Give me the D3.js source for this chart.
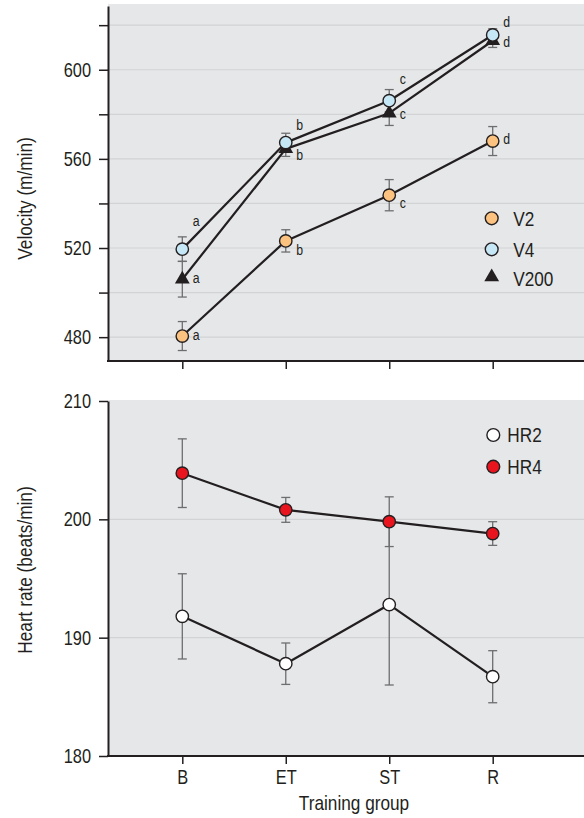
<!DOCTYPE html>
<html>
<head>
<meta charset="utf-8">
<script src="https://cdn.jsdelivr.net/npm/d3@7"></script>
<style>
  html, body { margin: 0; padding: 0; background: #ffffff; }
  svg { display: block; }
</style>
</head>
<body>
<script>
// Training groups on the shared x axis
const groups = ["B", "ET", "ST", "R"];

// Velocity (m/min): means and error half-widths
const v2 = [480.5, 523.2, 543.7, 568.0];
const v2Err = [6.5, 5.0, 7.0, 6.5];
const v4 = [519.5, 567.3, 586.1, 615.6];
const v4Err = [5.5, 4.2, 5.0, 2.8];
const v200 = [506.0, 564.5, 580.5, 613.0];
const v200Err = [8.0, 3.4, 5.5, 3.0];

// Significance letters attached to each velocity point
const v2Letters = ["a", "b", "c", "d"];
const v4Letters = ["a", "b", "c", "d"];
const v200Letters = ["a", "b", "c", "d"];

// Heart rate (beats/min): means and error half-widths
const hr2 = [191.8, 187.8, 192.8, 186.7];
const hr2Err = [3.6, 1.75, 6.8, 2.2];
const hr4 = [203.9, 200.8, 199.8, 198.8];
const hr4Err = [2.9, 1.05, 2.1, 1.0];

// Axis ticks
const velocityTicks = [480, 500, 520, 540, 560, 580, 600, 620];
const velocityLabels = [480, 520, 560, 600];
const hrTicks = [180, 190, 200, 210];

const FONT = "'Liberation Sans', Arial, Helvetica, sans-serif";
const NARROW = 0.82; // horizontal squeeze giving a condensed sans look
const INK = "#231f20";
const BG = "#e6e7e9";
const GRID = "#d2d3d5";
const ERR = "#6d6e70";
const ORANGE = "#fcc27f";
const BLUE = "#c6e7f6";
const RED = "#e8151f";

const W = 584, H = 818;
const axisX = 108;

const svg = d3.select("body").append("svg")
  .attr("width", W).attr("height", H)
  .style("font-family", FONT);

const x = d3.scalePoint().domain(groups).range([182.3, 492.7]);

// Move a text's x/y into its transform and squeeze it horizontally
function condense(sel) {
  sel.each(function () {
    const t = d3.select(this);
    const tx = +t.attr("x") || 0;
    const ty = +t.attr("y") || 0;
    const prev = t.attr("transform") || "";
    t.attr("x", 0).attr("y", 0)
      .attr("transform", `${prev} translate(${tx},${ty}) scale(${NARROW},1)`);
  });
  return sel;
}

// ---------- shared helpers ----------
function panelFrame(g, y, bgTop, ticks, labels, gridTicks) {
  const bottom = y.range()[0];
  g.append("rect")
    .attr("x", axisX).attr("y", bgTop)
    .attr("width", W - axisX).attr("height", bottom - bgTop)
    .attr("fill", BG);

  g.append("g").selectAll("line").data(gridTicks).join("line")
    .attr("x1", axisX).attr("x2", W)
    .attr("y1", d => y(d)).attr("y2", d => y(d))
    .attr("stroke", GRID).attr("stroke-width", 1.2);

  const yAxis = g.append("g")
    .attr("transform", `translate(${axisX},0)`)
    .call(d3.axisLeft(y).tickValues(ticks).tickSize(9).tickPadding(8).tickSizeOuter(0)
      .tickFormat(d => labels.includes(d) ? d : ""));
  yAxis.select(".domain").attr("stroke", INK).attr("stroke-width", 2);
  yAxis.selectAll(".tick line").attr("stroke", INK).attr("stroke-width", 1.5);
  yAxis.selectAll(".tick text").attr("fill", INK).attr("font-size", 20)
    .attr("font-family", FONT).call(condense);

  return bottom;
}

function xAxisAt(g, yPos, showLabels) {
  const xa = g.append("g")
    .attr("transform", `translate(0,${yPos})`)
    .call(d3.axisBottom(x).tickSize(8).tickPadding(6).tickSizeOuter(0)
      .tickFormat(showLabels ? (d => d) : ""));
  xa.select(".domain").remove();
  xa.selectAll(".tick line").attr("stroke", INK).attr("stroke-width", 1.5);
  xa.selectAll(".tick text").attr("fill", INK).attr("font-size", 20)
    .attr("font-family", FONT).call(condense);
  g.append("line")
    .attr("x1", axisX - 1).attr("x2", W)
    .attr("y1", yPos).attr("y2", yPos)
    .attr("stroke", INK).attr("stroke-width", 2);
}

function errorBars(g, y, vals, errs) {
  const eb = g.append("g").attr("stroke", ERR).attr("stroke-width", 1.3).attr("fill", "none");
  vals.forEach((v, i) => {
    const cx = x(groups[i]);
    const y0 = y(v - errs[i]), y1 = y(v + errs[i]);
    eb.append("line").attr("x1", cx).attr("x2", cx).attr("y1", y0).attr("y2", y1);
    eb.append("line").attr("x1", cx - 4.5).attr("x2", cx + 4.5).attr("y1", y0).attr("y2", y0);
    eb.append("line").attr("x1", cx - 4.5).attr("x2", cx + 4.5).attr("y1", y1).attr("y2", y1);
  });
}

function seriesLine(g, y, vals) {
  const line = d3.line().x((d, i) => x(groups[i])).y(d => y(d));
  g.append("path").datum(vals)
    .attr("d", line)
    .attr("fill", "none").attr("stroke", INK).attr("stroke-width", 2.2)
    .attr("stroke-linejoin", "round");
}

function circles(g, y, vals, fill) {
  g.append("g").selectAll("circle").data(vals).join("circle")
    .attr("cx", (d, i) => x(groups[i])).attr("cy", d => y(d))
    .attr("r", 6.2)
    .attr("fill", fill).attr("stroke", INK).attr("stroke-width", 1.4);
}

const triangle = d3.symbol().type(d3.symbolTriangle).size(95);

function triangles(g, y, vals) {
  g.append("g").selectAll("path").data(vals).join("path")
    .attr("d", triangle)
    .attr("transform", (d, i) => `translate(${x(groups[i])},${y(d)})`)
    .attr("fill", INK);
}

function letters(g, y, vals, texts, dys) {
  g.append("g").selectAll("text").data(vals).join("text")
    .attr("x", (d, i) => x(groups[i]) + 10.5)
    .attr("y", (d, i) => y(d) + dys[i])
    .attr("dy", "0.35em")
    .attr("font-size", 15).attr("fill", INK)
    .text((d, i) => texts[i])
    .call(condense);
}

// ---------- Velocity panel ----------
const yV = d3.scaleLinear().domain([469.3, 628.6]).range([361, 6]);
const velPanel = svg.append("g");
const velBottom = panelFrame(velPanel, yV, 4, velocityTicks, velocityLabels, velocityTicks);
xAxisAt(velPanel, velBottom, false);

errorBars(velPanel, yV, v2, v2Err);
errorBars(velPanel, yV, v4, v4Err);
errorBars(velPanel, yV, v200, v200Err);
seriesLine(velPanel, yV, v2);
seriesLine(velPanel, yV, v200);
seriesLine(velPanel, yV, v4);
circles(velPanel, yV, v2, ORANGE);
triangles(velPanel, yV, v200);
circles(velPanel, yV, v4, BLUE);

letters(velPanel, yV, v4, v4Letters, [-28.5, -17.7, -21.5, -13.4]);
letters(velPanel, yV, v200, v200Letters, [-1.3, 6, 1, 1]);
letters(velPanel, yV, v2, v2Letters, [-1, 8.6, 7.4, -2.8]);

velPanel.append("text")
  .attr("transform", `translate(32,198.5) rotate(-90) scale(${NARROW},1)`)
  .attr("text-anchor", "middle")
  .attr("font-size", 21).attr("fill", INK)
  .text("Velocity (m/min)");

// legend for velocity series
const legV = velPanel.append("g").attr("transform", "translate(491.7,0)");
const legVItems = [
  { name: "V2", kind: "circle", fill: ORANGE, y: 218.3 },
  { name: "V4", kind: "circle", fill: BLUE, y: 249.3 },
  { name: "V200", kind: "triangle", fill: INK, y: 279 }
];
legVItems.forEach(it => {
  if (it.kind === "circle") {
    legV.append("circle").attr("cx", 0).attr("cy", it.y).attr("r", 6.4)
      .attr("fill", it.fill).attr("stroke", INK).attr("stroke-width", 1.4);
  } else {
    legV.append("path").attr("d", triangle)
      .attr("transform", `translate(0,${it.y - 2})`).attr("fill", INK);
  }
  legV.append("text").attr("x", 21.5).attr("y", it.y).attr("dy", "0.35em")
    .attr("font-size", 21).attr("fill", INK).text(it.name).call(condense);
});

// ---------- Heart rate panel ----------
const yH = d3.scaleLinear().domain([180, 210]).range([756, 401]);
const hrPanel = svg.append("g");
const hrBottom = panelFrame(hrPanel, yH, 400, hrTicks, hrTicks, [190, 200]);
xAxisAt(hrPanel, hrBottom, true);

errorBars(hrPanel, yH, hr2, hr2Err);
errorBars(hrPanel, yH, hr4, hr4Err);
seriesLine(hrPanel, yH, hr2);
seriesLine(hrPanel, yH, hr4);
circles(hrPanel, yH, hr2, "#ffffff");
circles(hrPanel, yH, hr4, RED);

hrPanel.append("text")
  .attr("transform", `translate(32,570) rotate(-90) scale(${NARROW},1)`)
  .attr("text-anchor", "middle")
  .attr("font-size", 21).attr("fill", INK)
  .text("Heart rate (beats/min)");

hrPanel.append("text")
  .attr("x", 354).attr("y", 810)
  .attr("text-anchor", "middle")
  .attr("font-size", 21).attr("fill", INK)
  .text("Training group")
  .call(condense);

const legH = hrPanel.append("g").attr("transform", "translate(493.3,0)");
const legHItems = [
  { name: "HR2", fill: "#ffffff", y: 435 },
  { name: "HR4", fill: RED, y: 466.7 }
];
legHItems.forEach(it => {
  legH.append("circle").attr("cx", 0).attr("cy", it.y).attr("r", 6.4)
    .attr("fill", it.fill).attr("stroke", INK).attr("stroke-width", 1.4);
  legH.append("text").attr("x", 14).attr("y", it.y).attr("dy", "0.35em")
    .attr("font-size", 21).attr("fill", INK).text(it.name).call(condense);
});
</script>
</body>
</html>
